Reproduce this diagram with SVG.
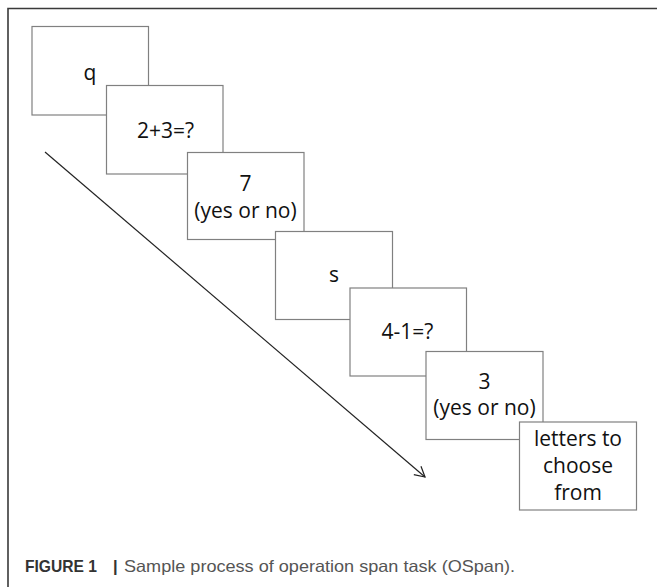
<svg xmlns="http://www.w3.org/2000/svg" width="657" height="587" viewBox="0 0 657 587">
  <style>
    .frame { fill: none; stroke: #3a3a3a; stroke-width: 1.6; }
    .card { fill: #ffffff; stroke: #808080; stroke-width: 1.2; }
    .label { font-family: "Open Sans", "Noto Sans", sans-serif; font-size: 21px; fill: #111111; text-anchor: middle; }
    .cap-b { font-family: "Liberation Sans", Arial, sans-serif; font-size: 16.5px; font-weight: bold; fill: #333333; }
    .cap { font-family: "Liberation Sans", Arial, sans-serif; font-size: 16.5px; fill: #555555; }
    .link { fill: none; stroke: #222222; stroke-width: 1.2; }
  </style>
  <defs>
    <marker id="open-head" markerWidth="14" markerHeight="14" refX="12" refY="7" orient="auto" markerUnits="userSpaceOnUse">
      <path d="M2,1.5 L12,7 L2,12.5" fill="none" stroke="#222222" stroke-width="1.2"/>
    </marker>
  </defs>

  <rect width="657" height="587" fill="#ffffff"/>

  <!-- open frame: left and top edges only -->
  <path class="frame" d="M8,587 L8,8.5 L657,8.5"/>

  <!-- time direction -->
  <g id="connectors">
    <line class="link" x1="45" y1="152" x2="425" y2="477" marker-end="url(#open-head)"/>
  </g>

  <!-- screens, each later one stacked over the previous -->
  <g id="screen-q">
    <rect class="card" x="32" y="26.5" width="116.5" height="88.5"/>
    <text class="label" x="90" y="80">q</text>
  </g>
  <g id="screen-2plus3">
    <rect class="card" x="106.5" y="85.5" width="116.5" height="88.5"/>
    <text class="label" x="165.5" y="138">2+3=?</text>
  </g>
  <g id="screen-7">
    <rect class="card" x="187.5" y="152.5" width="116.5" height="87"/>
    <text class="label" x="245.5" y="190.5">7</text>
    <text class="label" x="245.5" y="217.5">(yes or no)</text>
  </g>
  <g id="screen-s">
    <rect class="card" x="275.5" y="231.5" width="117" height="88"/>
    <text class="label" x="334" y="282">s</text>
  </g>
  <g id="screen-4minus1">
    <rect class="card" x="350" y="288" width="116.5" height="88"/>
    <text class="label" x="407.5" y="339">4-1=?</text>
  </g>
  <g id="screen-3">
    <rect class="card" x="426" y="351.5" width="117" height="88"/>
    <text class="label" x="484.5" y="389">3</text>
    <text class="label" x="484.5" y="415">(yes or no)</text>
  </g>
  <g id="screen-letters">
    <rect class="card" x="519.5" y="422" width="117" height="88"/>
    <text class="label" x="578" y="445.5">letters to</text>
    <text class="label" x="578" y="472.5">choose</text>
    <text class="label" x="578" y="499.5">from</text>
  </g>

  <!-- caption -->
  <text class="cap-b" x="25" y="572" textLength="72" lengthAdjust="spacingAndGlyphs">FIGURE 1</text>
  <text class="cap-b" x="113" y="572">|</text>
  <text class="cap" x="124" y="572" textLength="391" lengthAdjust="spacingAndGlyphs">Sample process of operation span task (OSpan).</text>
</svg>
